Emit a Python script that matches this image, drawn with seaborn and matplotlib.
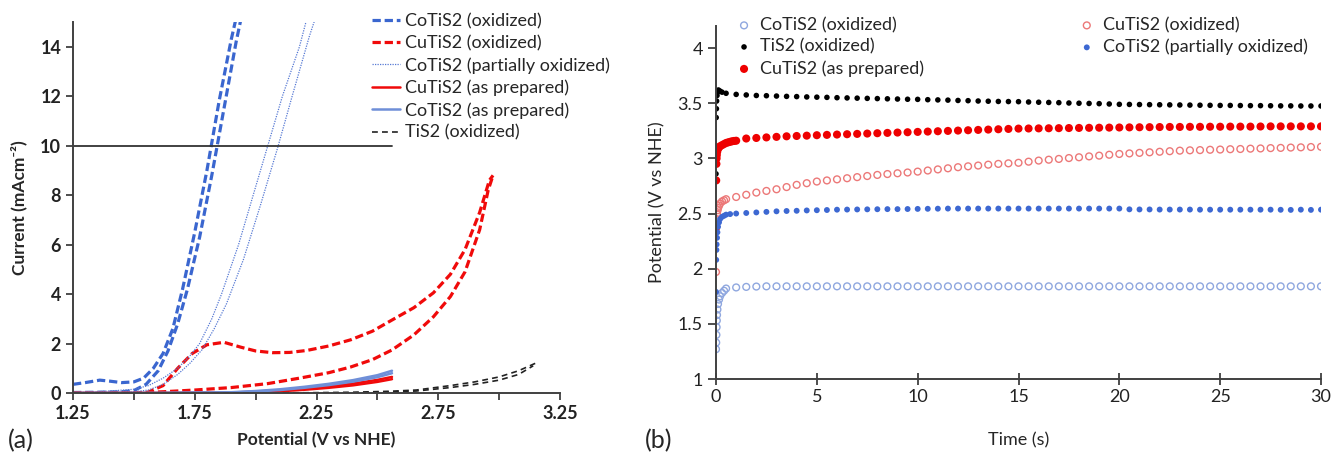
import numpy as np
import pandas as pd
import matplotlib
matplotlib.use("Agg")
import matplotlib.pyplot as plt
import seaborn as sns

sns.set_theme(style="ticks")
plt.rcParams.update({
    "font.family": ["Lato", "DejaVu Sans"],
    "axes.edgecolor": "#404040",
    "axes.linewidth": 1.4,
    "xtick.color": "#404040",
    "ytick.color": "#404040",
    "xtick.labelcolor": "#222222",
    "ytick.labelcolor": "#222222",
})

# ---------------- (a) polarisation curves: forward / reverse branches ----------------
CO_OX_X1 = [1.25, 1.30, 1.36, 1.40, 1.45, 1.50, 1.54, 1.58, 1.62, 1.66, 1.70, 1.75, 1.80, 1.85, 1.90, 1.93]
CO_OX_Y1 = [0.35, 0.42, 0.52, 0.48, 0.42, 0.45, 0.60, 1.00, 1.60, 2.60, 4.20, 6.50, 9.00, 11.8, 14.3, 15.6]
CO_OX_X2 = [1.25, 1.35, 1.45, 1.50, 1.55, 1.60, 1.64, 1.68, 1.72, 1.77, 1.82, 1.87, 1.92, 1.95]
CO_OX_Y2 = [0.02, 0.03, 0.05, 0.10, 0.35, 0.90, 1.70, 2.80, 4.20, 6.30, 8.80, 11.5, 14.2, 15.6]

CU_OX_X1 = [1.55, 1.62, 1.68, 1.74, 1.80, 1.87, 1.94, 2.00, 2.07, 2.14, 2.21, 2.30, 2.39,
            2.48, 2.56, 2.65, 2.73, 2.80, 2.86, 2.92, 2.96, 2.975]
CU_OX_Y1 = [0.00, 0.30, 1.00, 1.60, 1.95, 2.05, 1.85, 1.70, 1.63, 1.64, 1.72, 1.90, 2.15,
            2.50, 2.95, 3.45, 4.05, 4.80, 5.80, 7.30, 8.60, 8.80]
CU_OX_X2 = [1.25, 1.40, 1.55, 1.62, 1.75, 1.90, 2.05, 2.18, 2.30, 2.39, 2.48, 2.56, 2.65,
            2.73, 2.80, 2.86, 2.92, 2.955, 2.975]
CU_OX_Y2 = [0.00, 0.00, 0.02, 0.05, 0.12, 0.22, 0.38, 0.60, 0.82, 1.05, 1.35, 1.74, 2.35,
            3.08, 3.90, 4.90, 6.60, 8.20, 8.80]

CO_PART_X1 = [1.25, 1.40, 1.50, 1.56, 1.62, 1.68, 1.73, 1.77, 1.82, 1.86, 1.93, 1.99, 2.05, 2.11, 2.18, 2.22]
CO_PART_Y1 = [0.00, 0.08, 0.15, 0.30, 0.60, 1.00, 1.50, 2.00, 3.00, 4.00, 6.00, 8.00, 10.0, 12.0, 14.0, 15.5]
CO_PART_X2 = [1.25, 1.40, 1.50, 1.56, 1.62, 1.68, 1.73, 1.78, 1.83, 1.88, 1.95, 2.02, 2.09, 2.15, 2.22, 2.26]
CO_PART_Y2 = [0.00, 0.02, 0.05, 0.12, 0.35, 0.75, 1.20, 1.75, 2.60, 3.60, 5.40, 7.60, 9.90, 12.0, 14.4, 15.6]

PREP_X = [1.25, 1.60, 1.90, 2.00, 2.10, 2.20, 2.30, 2.40, 2.50, 2.56]
CU_PREP_Y1 = [0.00, 0.00, 0.02, 0.05, 0.10, 0.17, 0.26, 0.38, 0.53, 0.65]
CU_PREP_Y2 = [0.00, 0.00, 0.01, 0.03, 0.07, 0.13, 0.21, 0.31, 0.45, 0.56]
CO_PREP_Y1 = [0.00, 0.00, 0.03, 0.08, 0.15, 0.25, 0.37, 0.52, 0.72, 0.90]
CO_PREP_Y2 = [0.00, 0.00, 0.02, 0.06, 0.12, 0.21, 0.32, 0.46, 0.64, 0.80]

TI_OX_X1 = [1.25, 1.80, 2.20, 2.40, 2.55, 2.66, 2.80, 2.90, 3.00, 3.08, 3.16]
TI_OX_Y1 = [0.00, 0.00, 0.01, 0.03, 0.07, 0.12, 0.30, 0.45, 0.65, 0.90, 1.25]
TI_OX_X2 = [1.25, 1.80, 2.20, 2.40, 2.55, 2.66, 2.80, 2.90, 3.00, 3.08, 3.14]
TI_OX_Y2 = [0.00, 0.00, 0.00, 0.01, 0.04, 0.08, 0.22, 0.35, 0.52, 0.75, 1.10]

REF_LINE_X = [1.25, 2.56]
REF_LINE_Y = [10, 10]

# ---------------- (b) chronopotentiometry ----------------
T_REG = [1.0, 1.5, 2.0, 2.5, 3.0, 3.5, 4.0, 4.5, 5.0, 5.5, 6.0, 6.5, 7.0, 7.5, 8.0, 8.5, 9.0, 9.5,
         10.0, 10.5, 11.0, 11.5, 12.0, 12.5, 13.0, 13.5, 14.0, 14.5, 15.0, 15.5, 16.0, 16.5, 17.0,
         17.5, 18.0, 18.5, 19.0, 19.5, 20.0, 20.5, 21.0, 21.5, 22.0, 22.5, 23.0, 23.5, 24.0, 24.5,
         25.0, 25.5, 26.0, 26.5, 27.0, 27.5, 28.0, 28.5, 29.0, 29.5, 30.0]

TI_T0 = [0, 0.01, 0.02, 0.03, 0.05, 0.08, 0.12, 0.2, 0.3, 0.5]
TI_V0 = [2.86, 3.37, 3.45, 3.52, 3.57, 3.60, 3.62, 3.61, 3.60, 3.59]
TI_V = [3.580, 3.575, 3.570, 3.568, 3.565, 3.562, 3.560, 3.557, 3.555, 3.553, 3.550, 3.548, 3.546,
        3.544, 3.542, 3.540, 3.538, 3.536, 3.535, 3.532, 3.530, 3.528, 3.525, 3.523, 3.520, 3.518,
        3.516, 3.515, 3.514, 3.511, 3.509, 3.507, 3.505, 3.502, 3.500, 3.498, 3.496, 3.493, 3.490,
        3.489, 3.488, 3.487, 3.486, 3.485, 3.484, 3.483, 3.482, 3.481, 3.480, 3.480, 3.479, 3.478,
        3.478, 3.477, 3.476, 3.476, 3.475, 3.475, 3.475]

CU_PREP_T0 = [0, 0.01, 0.02, 0.03, 0.04, 0.06, 0.08, 0.1, 0.15, 0.2, 0.3, 0.4, 0.5, 0.6, 0.7, 0.8, 0.9]
CU_PREP_V0 = [2.37, 2.80, 2.95, 3.00, 3.03, 3.06, 3.08, 3.09, 3.10, 3.11, 3.12, 3.13, 3.14, 3.145,
              3.15, 3.155, 3.158]
CU_PREP_V = [3.160, 3.180, 3.185, 3.190, 3.195, 3.200, 3.203, 3.206, 3.210, 3.213, 3.216, 3.219,
             3.222, 3.225, 3.228, 3.231, 3.234, 3.237, 3.240, 3.243, 3.246, 3.249, 3.252, 3.255,
             3.258, 3.261, 3.264, 3.267, 3.270, 3.271, 3.272, 3.273, 3.274, 3.275, 3.276, 3.277,
             3.278, 3.279, 3.280, 3.281, 3.282, 3.283, 3.284, 3.285, 3.285, 3.286, 3.286, 3.287,
             3.287, 3.288, 3.288, 3.288, 3.289, 3.290, 3.290, 3.290, 3.290, 3.290, 3.290]

CU_OX_T0 = [0, 0.02, 0.05, 0.08, 0.1, 0.15, 0.2, 0.3, 0.4, 0.5]
CU_OX_V0 = [1.97, 2.45, 2.50, 2.53, 2.55, 2.57, 2.59, 2.61, 2.62, 2.63]
CU_OX_V = [2.650, 2.670, 2.690, 2.705, 2.720, 2.740, 2.760, 2.775, 2.790, 2.800, 2.810, 2.820,
           2.830, 2.840, 2.850, 2.858, 2.865, 2.872, 2.880, 2.890, 2.900, 2.910, 2.920, 2.928,
           2.935, 2.943, 2.950, 2.955, 2.960, 2.970, 2.980, 2.988, 2.995, 3.003, 3.010, 3.018,
           3.025, 3.033, 3.040, 3.045, 3.050, 3.055, 3.060, 3.065, 3.070, 3.073, 3.075, 3.078,
           3.080, 3.083, 3.085, 3.088, 3.090, 3.093, 3.095, 3.098, 3.100, 3.103, 3.105]

CO_PART_T0 = [0, 0.01, 0.02, 0.03, 0.05, 0.07, 0.1, 0.15, 0.2, 0.3, 0.4, 0.5, 0.7]
CO_PART_V0 = [1.79, 2.08, 2.17, 2.22, 2.28, 2.33, 2.38, 2.42, 2.45, 2.47, 2.48, 2.49, 2.495]
CO_PART_V = [2.500, 2.505, 2.510, 2.515, 2.520, 2.523, 2.525, 2.528, 2.530, 2.532, 2.535, 2.536,
             2.537, 2.538, 2.539, 2.540, 2.540, 2.541, 2.542, 2.543, 2.544, 2.545, 2.545, 2.545,
             2.545, 2.545, 2.545, 2.545, 2.545, 2.545, 2.545, 2.545, 2.545, 2.545, 2.545, 2.545,
             2.545, 2.545, 2.545, 2.538, 2.537, 2.537, 2.536, 2.536, 2.536, 2.536, 2.535, 2.535,
             2.535, 2.535, 2.535, 2.535, 2.535, 2.535, 2.534, 2.533, 2.535, 2.533, 2.535]

CO_OX_T0 = [0, 0.01, 0.02, 0.03, 0.04, 0.05, 0.07, 0.1, 0.15, 0.2, 0.3, 0.4, 0.5]
CO_OX_V0 = [1.27, 1.33, 1.40, 1.47, 1.53, 1.58, 1.63, 1.68, 1.72, 1.75, 1.78, 1.80, 1.82]
CO_OX_V = [1.830, 1.835, 1.838, 1.840, 1.840, 1.840, 1.840, 1.840, 1.840, 1.840, 1.840, 1.840,
           1.840, 1.840, 1.840, 1.840, 1.840, 1.840, 1.840, 1.840, 1.840, 1.840, 1.840, 1.840,
           1.840, 1.840, 1.840, 1.840, 1.840, 1.840, 1.840, 1.840, 1.840, 1.840, 1.840, 1.840,
           1.840, 1.840, 1.840, 1.840, 1.840, 1.840, 1.840, 1.840, 1.840, 1.840, 1.840, 1.840,
           1.840, 1.840, 1.840, 1.840, 1.840, 1.840, 1.840, 1.840, 1.840, 1.840, 1.840]

BLUE_DARK = "#3a66cf"
BLUE_MID = "#5679d4"
BLUE_LIGHT = "#6f8fd8"
RED = "#f00a0a"
W, H = 1331, 454

fig = plt.figure(figsize=(W / 100, H / 100), dpi=100)
ax1 = fig.add_axes([73 / W, 1 - 393 / H, (560 - 73) / W, (393 - 22) / H])
ax2 = fig.add_axes([716 / W, 1 - 379 / H, (1321 - 716) / W, (379 - 26) / H])

# ---------- panel (a) ----------
curves = [
    # (x-branches, y-branches, colour, linestyle, width, label)
    ([CO_OX_X1, CO_OX_X2], [CO_OX_Y1, CO_OX_Y2], BLUE_DARK, (0, (2.6, 1.2)), 2.3, "CoTiS2 (oxidized)"),
    ([CU_OX_X1, CU_OX_X2], [CU_OX_Y1, CU_OX_Y2], RED, (0, (2.6, 1.2)), 2.3, "CuTiS2 (oxidized)"),
    ([CO_PART_X1, CO_PART_X2], [CO_PART_Y1, CO_PART_Y2], BLUE_MID, (0, (1, 1)), 0.9, "CoTiS2 (partially oxidized)"),
    ([PREP_X, PREP_X], [CU_PREP_Y1, CU_PREP_Y2], RED, "-", 1.8, "CuTiS2 (as prepared)"),
    ([PREP_X, PREP_X], [CO_PREP_Y1, CO_PREP_Y2], BLUE_LIGHT, "-", 1.8, "CoTiS2 (as prepared)"),
    ([TI_OX_X1, TI_OX_X2], [TI_OX_Y1, TI_OX_Y2], "#222222", (0, (3.5, 2.5)), 1.2, "TiS2 (oxidized)"),
]
for xs, ys, col, ls, lw, lab in curves:
    for i, (xb, yb) in enumerate(zip(xs, ys)):
        sns.lineplot(x=xb, y=yb, ax=ax1, sort=False, estimator=None, color=col,
                     linestyle=ls, linewidth=lw, label=lab if i == 0 else None)

sns.lineplot(x=REF_LINE_X, y=REF_LINE_Y, ax=ax1, sort=False, estimator=None,
             color="#333333", linewidth=1.3, label=None)

ax1.set_xlim(1.25, 3.25)
ax1.set_ylim(0, 15)
ax1.set_xticks([1.25, 1.75, 2.25, 2.75, 3.25])
ax1.set_xticks([1.5, 2.0, 2.5, 3.0], minor=True)
ax1.set_yticks(range(0, 15, 2))
ax1.tick_params(axis="both", which="both", direction="out", length=5, width=1.3, labelsize=13)
for lbl in ax1.get_xticklabels() + ax1.get_yticklabels():
    lbl.set_fontweight("bold")
ax1.set_xlabel("Potential (V vs NHE)", fontsize=12.5, fontweight="bold")
ax1.set_ylabel("Current (mAcm⁻²)", fontsize=12.5, fontweight="bold")
ax1.xaxis.set_label_coords(0.5, -0.105)
ax1.yaxis.set_label_coords(-0.094, 0.5)
sns.despine(ax=ax1)
ax1.legend(loc="upper left", bbox_to_anchor=(372 / W, 1 - 13 / H), bbox_transform=fig.transFigure,
           frameon=False, fontsize=13, handlelength=1.55, handletextpad=0.28,
           labelspacing=0.33, borderpad=0, borderaxespad=0)

# ---------- panel (b) ----------
points = [
    (CO_OX_T0 + T_REG, CO_OX_V0 + CO_OX_V, "#8fa7df", True, 24, "CoTiS2 (oxidized)"),
    (TI_T0 + T_REG, TI_V0 + TI_V, "#000000", False, 16, "TiS2 (oxidized)"),
    (CU_PREP_T0 + T_REG, CU_PREP_V0 + CU_PREP_V, "#ee0000", False, 34, "CuTiS2 (as prepared)"),
    (CU_OX_T0 + T_REG, CU_OX_V0 + CU_OX_V, "#ec7878", True, 24, "CuTiS2 (oxidized)"),
    (CO_PART_T0 + T_REG, CO_PART_V0 + CO_PART_V, "#3d68d2", False, 18, "CoTiS2 (partially oxidized)"),
]
for t, v, col, hollow, size, lab in points:
    if hollow:
        sns.scatterplot(x=t, y=v, ax=ax2, marker="o", s=size, color=col, facecolor="none",
                        edgecolor=col, linewidth=1.0, label=lab, zorder=3)
    else:
        sns.scatterplot(x=t, y=v, ax=ax2, marker="o", s=size, color=col, edgecolor="none",
                        linewidth=0, label=lab, zorder=3)

ax2.set_xlim(0, 30)
ax2.set_ylim(1, 4.2)
ax2.set_xticks(range(0, 31, 5))
ax2.set_yticks([1, 1.5, 2, 2.5, 3, 3.5, 4])
ax2.set_yticklabels(["1", "1.5", "2", "2.5", "3", "3.5", "4"])
ax2.tick_params(axis="x", direction="inout", length=8, width=1.3, labelsize=13)
ax2.tick_params(axis="y", direction="out", length=6, width=1.3, labelsize=13)
ax2.set_xlabel("Time (s)", fontsize=13)
ax2.set_ylabel("Potential (V vs NHE)", fontsize=13)
ax2.xaxis.set_label_coords(0.5, -0.15)
ax2.yaxis.set_label_coords(-0.084, 0.5)
for sp in ("top", "right"):
    ax2.spines[sp].set_visible(False)
ax2.spines["left"].set_zorder(5)
ax2.legend(loc="upper left", bbox_to_anchor=(735 / W, 1 - 17 / H), bbox_transform=fig.transFigure,
           ncol=2, frameon=False, fontsize=13, handlelength=1.0, handletextpad=0.4,
           labelspacing=0.3, columnspacing=8.5, borderpad=0, borderaxespad=0)

fig.text(8 / W, 1 - 441 / H, "(a)", fontsize=18, va="center", ha="left")
fig.text(645 / W, 1 - 441 / H, "(b)", fontsize=18, va="center", ha="left")

fig.savefig("out.png", dpi=100)
